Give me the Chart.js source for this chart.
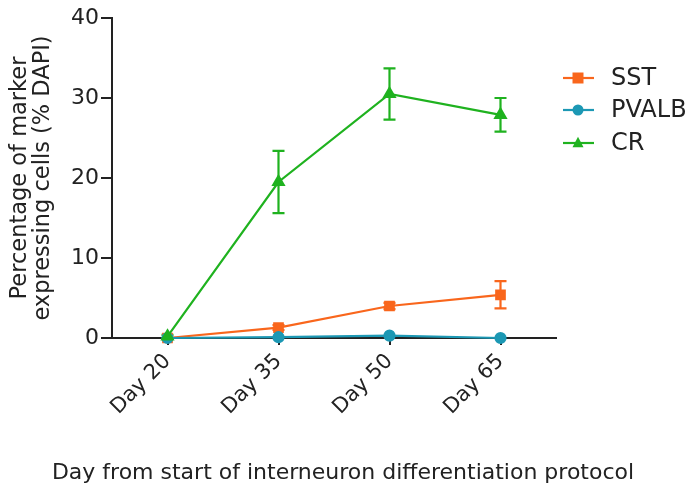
<!DOCTYPE html>
<html>
<head>
<meta charset="utf-8">
<script src="https://cdn.jsdelivr.net/npm/chart.js@4.4.0/dist/chart.umd.min.js"></script>
<style>
  html, body { margin: 0; padding: 0; background: #fff; }
  #wrap { width: 688px; height: 492px; }
</style>
</head>
<body>
<div id="wrap"><canvas id="myChart" width="688" height="492"></canvas></div>
<script>
// data
const days = ['Day 20', 'Day 35', 'Day 50', 'Day 65'];
const sst = [0, 1.3, 4.0, 5.4];
const sstErr = [0, 0.3, 0.4, 1.7];
const pvalb = [0, 0.1, 0.3, 0];
const pvalbErr = [0, 0, 0, 0];
const cr = [0.2, 19.5, 30.5, 27.9];
const crErr = [0.2, 3.9, 3.2, 2.1];
const yTicks = [0, 10, 20, 30, 40];
const xTitle = 'Day from start of interneuron differentiation protocol';

const orange = '#f9661c';
const teal = '#1c98b4';
const green = '#1fb21f';
const ink = '#222222';
const font = 'DejaVu Sans';

const ctx = document.getElementById('myChart');

// vertical error bars with caps, drawn through the scales
const errorBars = {
  id: 'errorBars',
  beforeDatasetsDraw(chart) {
    const c = chart.ctx;
    const y = chart.scales.y;
    chart.data.datasets.forEach((ds, i) => {
      const meta = chart.getDatasetMeta(i);
      c.save();
      c.strokeStyle = ds.borderColor;
      c.lineWidth = 2.2;
      meta.data.forEach((pt, j) => {
        const e = ds.err[j];
        if (!e) return;
        const top = y.getPixelForValue(ds.data[j] + e);
        const bot = y.getPixelForValue(ds.data[j] - e);
        c.beginPath();
        c.moveTo(pt.x, top); c.lineTo(pt.x, bot);
        c.moveTo(pt.x - 6, top); c.lineTo(pt.x + 6, top);
        c.moveTo(pt.x - 6, bot); c.lineTo(pt.x + 6, bot);
        c.stroke();
      });
      c.restore();
    });
  }
};

function marker(c, style, x, y, r, color) {
  c.fillStyle = color;
  c.beginPath();
  if (style === 'rect') {
    c.rect(x - r, y - r, r * 2, r * 2);
  } else if (style === 'circle') {
    c.arc(x, y, r, 0, Math.PI * 2);
  } else {
    c.moveTo(x, y - r * 1.15);
    c.lineTo(x + r, y + r * 0.75);
    c.lineTo(x - r, y + r * 0.75);
    c.closePath();
  }
  c.fill();
}

// legend on the right (line through marker + label) and the bottom title,
// which is centred on the whole canvas in the original
const sideLegend = {
  id: 'sideLegend',
  afterDraw(chart) {
    const c = chart.ctx;
    const ys = [78, 110, 143];
    chart.data.datasets.forEach((ds, i) => {
      const yy = ys[i];
      c.save();
      c.strokeStyle = ds.borderColor;
      c.lineWidth = 2.2;
      c.beginPath();
      c.moveTo(563, yy); c.lineTo(594, yy);
      c.stroke();
      marker(c, ds.pointStyle, 578, yy, 5.5, ds.borderColor);
      c.fillStyle = ink;
      c.font = '24px "' + font + '"';
      c.textBaseline = 'middle';
      c.fillText(ds.label, 611, yy + 1);
      c.restore();
    });
    c.save();
    c.fillStyle = ink;
    c.font = '22px "' + font + '"';
    c.textAlign = 'center';
    c.textBaseline = 'middle';
    c.fillText(xTitle, chart.width / 2 - 1, 473);
    c.restore();
  }
};

const data = {
  labels: days,
  datasets: [
    {
      label: 'SST',
      data: sst,
      err: sstErr,
      borderColor: orange,
      backgroundColor: orange,
      pointStyle: 'rect',
      pointRadius: 6,
      borderWidth: 2.2,
      order: 2
    },
    {
      label: 'PVALB',
      data: pvalb,
      err: pvalbErr,
      borderColor: teal,
      backgroundColor: teal,
      pointStyle: 'circle',
      pointRadius: 5,
      borderWidth: 2.2,
      order: 1
    },
    {
      label: 'CR',
      data: cr,
      err: crErr,
      borderColor: green,
      backgroundColor: green,
      pointStyle: 'triangle',
      pointRadius: 6,
      borderWidth: 2.2,
      order: 0
    }
  ]
};

const options = {
  responsive: false,
  animation: false,
  clip: false,
  layout: { padding: { top: 18, right: 132, left: 0, bottom: 0 } },
  elements: { line: { tension: 0 }, point: { borderWidth: 0, hoverRadius: 6 } },
  plugins: {
    legend: { display: false },
    tooltip: { enabled: false }
  },
  scales: {
    x: {
      offset: true,
      afterFit: s => { s.height = 154; },
      grid: { display: true, drawOnChartArea: false, drawTicks: true, tickLength: 7, color: ink, lineWidth: 2 },
      border: { display: true, color: ink, width: 2 },
      ticks: { color: ink, font: { family: font, size: 21 }, minRotation: 45, maxRotation: 45, padding: 4 }
    },
    y: {
      min: 0,
      max: 40,
      afterFit: s => { s.width = 112; },
      afterBuildTicks: s => { s.ticks = yTicks.map(v => ({ value: v })); },
      grid: { display: true, drawOnChartArea: false, drawTicks: true, tickLength: 11, color: ink, lineWidth: 2 },
      border: { display: true, color: ink, width: 2 },
      ticks: { color: ink, font: { family: font, size: 22 }, padding: 2 },
      title: {
        display: true,
        text: ['Percentage of marker', 'expressing cells (% DAPI)'],
        color: ink,
        font: { family: font, size: 22.5, lineHeight: 1.0 },
        padding: { top: 9, bottom: 0 }
      }
    }
  }
};

new Chart(ctx, {
  type: 'line',
  data: data,
  options: options,
  plugins: [errorBars, sideLegend]
});
</script>
</body>
</html>
